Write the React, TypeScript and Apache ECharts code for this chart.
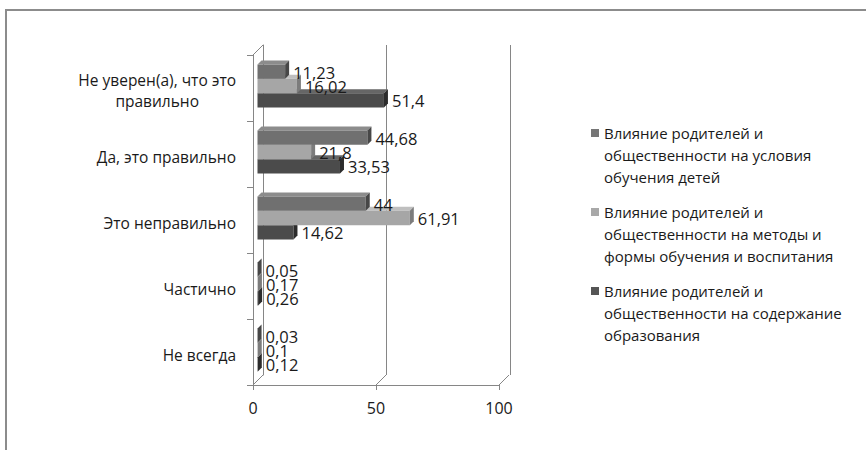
import React, { useEffect, useRef } from "react";
import * as echarts from "echarts";

const categories = [
  "Не уверен(а), что это\nправильно",
  "Да, это правильно",
  "Это неправильно",
  "Частично",
  "Не всегда",
];
const seriesNames = [
  "Влияние родителей и\nобщественности на условия\nобучения детей",
  "Влияние родителей и\nобщественности на методы и\nформы обучения и воспитания",
  "Влияние родителей и\nобщественности на содержание\nобразования",
];
const conditionsValues = [11.23, 44.68, 44, 0.05, 0.03];
const methodsValues = [16.02, 21.8, 61.91, 0.17, 0.1];
const contentValues = [51.4, 33.53, 14.62, 0.26, 0.12];
const xTicks = [0, 50, 100];

const FONT = "'Open Sans', sans-serif";
const LINE = "#868686";
const TEXT = "#1a1a1a";
const frontColors = ["#707070", "#a6a6a6", "#4b4b4b"];
const topColors = ["#8c8c8c", "#bfbfbf", "#666666"];
const sideColors = ["#474747", "#7c7c7c", "#2c2c2c"];
const legendColors = ["#767676", "#a8a8a8", "#555555"];

const fmt = (v: number) => String(v).replace(".", ",");

function makeBarRender(i: number) {
  return (params: any, api: any) => {
    const v = api.value(0);
    const c = api.value(1);
    const p0 = api.coord([0, c]);
    const p1 = api.coord([v, c]);
    const band = api.size([0, 1])[1];
    const h = band * 0.217;
    const d = 4;
    const top = p0[1] - 2 - 1.5 * h + i * h;
    const bot = top + h;
    const x0 = p0[0] + 4.5;
    const x1 = p1[0] + 4.5;
    return {
      type: "group",
      children: [
        {
          type: "polygon",
          shape: { points: [[x0, top], [x1, top], [x1 + d, top - d], [x0 + d, top - d]] },
          style: { fill: topColors[i] },
        },
        {
          type: "rect",
          shape: { x: x0, y: top, width: Math.max(x1 - x0, 0), height: h },
          style: { fill: frontColors[i] },
        },
        {
          type: "polygon",
          shape: { points: [[x1, top], [x1 + d, top - d], [x1 + d, bot - d], [x1, bot]] },
          style: { fill: sideColors[i] },
        },
        {
          type: "text",
          x: x1 + d + 4,
          y: (top + bot) / 2 + 0.5,
          z2: 10,
          style: {
            text: fmt(v),
            fill: TEXT,
            fontSize: 16.5,
            fontFamily: FONT,
            align: "left",
            verticalAlign: "middle",
          },
        },
      ],
    };
  };
}

function frameRender(params: any, api: any) {
  const v = api.value(0);
  const cs = params.coordSys;
  const x = api.coord([v, 0])[0];
  const yb = cs.y + cs.height;
  const children: any[] = [
    {
      type: "line",
      shape: { x1: x, y1: yb, x2: x + 10, y2: yb - 10 },
      style: { stroke: LINE, lineWidth: 1 },
    },
  ];
  if (params.dataIndex === 0) {
    children.push({
      type: "line",
      shape: { x1: cs.x, y1: cs.y, x2: cs.x + 10, y2: cs.y - 10 },
      style: { stroke: LINE, lineWidth: 1 },
    });
  }
  return { type: "group", children };
}

export default function App() {
  const ref = useRef<HTMLDivElement>(null);
  useEffect(() => {
    if (!ref.current) return;
    const chart = echarts.init(ref.current, null, { renderer: "svg" });
    const valueSets = [conditionsValues, methodsValues, contentValues];
    chart.setOption({
      animation: false,
      backgroundColor: "#ffffff",
      graphic: [
        {
          type: "rect",
          shape: { x: 6, y: 10, width: 1000, height: 1000 },
          style: { fill: "none", stroke: "#8c8c8c", lineWidth: 2 },
          silent: true,
        },
      ],
      grid: [
        { left: 253, top: 55, width: 246, height: 330 },
        { left: 263, top: 45, width: 247, height: 330 },
      ],
      xAxis: [
        {
          type: "value",
          gridIndex: 0,
          min: 0,
          max: 100,
          interval: 50,
          axisLine: { show: true, lineStyle: { color: LINE } },
          axisTick: { show: true, length: 5, lineStyle: { color: LINE } },
          splitLine: { show: false },
          axisLabel: { fontSize: 16, fontFamily: FONT, color: TEXT, margin: 15 },
        },
        {
          type: "value",
          gridIndex: 1,
          min: 0,
          max: 100,
          interval: 50,
          axisLine: { show: false },
          axisTick: { show: false },
          axisLabel: { show: false },
          splitLine: { show: true, lineStyle: { color: LINE, width: 1 } },
        },
      ],
      yAxis: [
        {
          type: "category",
          gridIndex: 0,
          data: categories,
          inverse: true,
          axisLine: { show: true, lineStyle: { color: LINE } },
          axisTick: { show: true, length: 6, lineStyle: { color: LINE } },
          axisLabel: {
            margin: 17,
            align: "right",
            padding: [5, 0, 0, 0],
            formatter: (val: string) =>
              val
                .split("\n")
                .map((l) => `{c|${l}}`)
                .join("\n"),
            rich: {
              c: {
                align: "center",
                fontSize: 15.5,
                fontFamily: FONT,
                color: TEXT,
                lineHeight: 21,
              },
            },
          },
        },
        {
          type: "category",
          gridIndex: 1,
          data: categories,
          inverse: true,
          axisLine: { show: true, lineStyle: { color: LINE } },
          axisTick: { show: false },
          axisLabel: { show: false },
          splitLine: { show: false },
        },
      ],
      legend: {
        orient: "vertical",
        left: 591,
        top: 78,
        padding: 0,
        itemWidth: 8,
        itemHeight: 8,
        itemGap: -31,
        icon: "rect",
        selectedMode: false,
        data: seriesNames,
        formatter: (name: string) =>
          name
            .split("\n")
            .map((l) => `{a|${l}}`)
            .join("\n"),
        textStyle: {
          fontSize: 15,
          fontFamily: FONT,
          color: TEXT,
          lineHeight: 22,
          padding: [44, 0, 0, 0],
          rich: {
            a: { fontSize: 15, fontFamily: FONT, color: TEXT, lineHeight: 22 },
          },
        },
      },
      series: [
        {
          type: "custom",
          name: "frame",
          silent: true,
          xAxisIndex: 0,
          yAxisIndex: 0,
          z: 1,
          data: xTicks.map((v) => [v, 0]),
          renderItem: frameRender,
        },
        ...valueSets.map((vals, i) => ({
          type: "custom",
          name: seriesNames[i],
          xAxisIndex: 0,
          yAxisIndex: 0,
          z: 5 - i,
          itemStyle: { color: legendColors[i] },
          data: vals.map((v, ci) => [v, ci]),
          renderItem: makeBarRender(i),
        })),
      ],
    });
    return () => chart.dispose();
  }, []);
  return (
    <div
      ref={ref}
      style={{ position: "absolute", left: 0, top: 0, width: 866, height: 450 }}
    />
  );
}
